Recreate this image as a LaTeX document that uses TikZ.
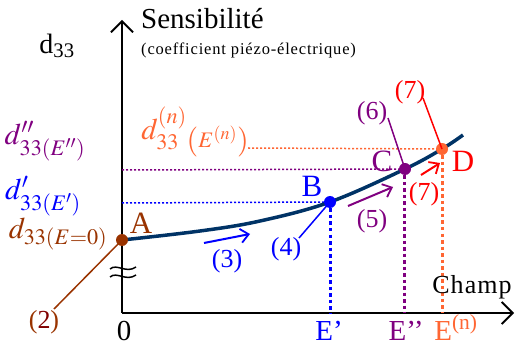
\documentclass[tikz,border=0pt]{standalone}
\usepackage{mathptmx}
\usepackage{fontspec}
\setmainfont{Liberation Serif}
\newfontfamily\spacedA[LetterSpace=5]{Liberation Serif}
\newfontfamily\spacedB[LetterSpace=4]{Liberation Serif}
\usetikzlibrary{arrows.meta}
\definecolor{brownc}{RGB}{153,51,0}
\definecolor{maroonc}{RGB}{128,0,0}
\definecolor{bluec}{RGB}{0,0,255}
\definecolor{purplec}{RGB}{128,0,128}
\definecolor{orangec}{RGB}{255,102,51}
\definecolor{redc}{RGB}{255,0,0}
\definecolor{navyc}{RGB}{0,51,102}
\tikzset{
  axisline/.style={line width=1.8pt, -{Straight Barb[length=11pt,width=22pt,line width=1.8pt]}},
  mainc/.style={line width=3.5pt, navyc},
  dotpt/.style={circle, inner sep=0pt, minimum size=12pt, fill=#1},
  lbl/.style={font=\fontsize{31}{31}\selectfont, inner sep=0pt},
  blbl/.style={font=\fontsize{29}{29}\selectfont, inner sep=0pt, anchor=base, text depth=0pt},
  mlbl/.style={font=\fontsize{30}{30}\selectfont, inner sep=0pt},
  nlbl/.style={font=\fontsize{26}{26}\selectfont, inner sep=0pt},
  hdot/.style={line width=1.5pt, dash pattern=on 2pt off 2pt},
  vdot/.style={line width=3pt, dash pattern=on 3.5pt off 3pt},
  lead/.style={line width=1.5pt},
  step arrow/.style={line width=2pt, -{Straight Barb[length=8pt,width=14pt,line width=1.8pt]}},
}
\begin{document}
\begin{tikzpicture}[x=1pt,y=-1pt]
\useasboundingbox (0,0) rectangle (516,347);
% axes
\coordinate (O) at (122,313);
\coordinate (Ytop) at (122,20);
\coordinate (Xend) at (514,313);
\draw[axisline] (O) -- (Ytop);
\draw[axisline] (O) -- (Xend);
% break marks
\draw[line width=1.5pt] (110,269) .. controls (117,263) and (126,274) .. (136,267);
\draw[line width=1.5pt] (110,277) .. controls (117,271) and (126,282) .. (136,275);
% points
\coordinate (Ap) at (122,240);
\coordinate (Bp) at (330,202);
\coordinate (Cp) at (405,169);
\coordinate (Dp) at (442,149);
% dotted guides
\draw[hdot, purplec] (122,170) -- (Cp);
\draw[hdot, bluec] (122,203) -- (Bp);
\draw[hdot, orangec] (248,148) -- (Dp);
\draw[vdot, bluec] (Bp) -- (330,313);
\draw[vdot, purplec] (404,169) -- (404,313);
\draw[vdot, orangec] (442,149) -- (442,313);
% curve
\draw[mainc] plot[smooth, tension=0.6] coordinates {(122,240) (200,231) (260,221) (330,202) (405,169) (442,149) (463,135)};
\node[dotpt=brownc] (A) at (Ap) {};
\node[dotpt=bluec] (B) at (Bp) {};
\node[dotpt=purplec] (C) at (Cp) {};
\node[dotpt=orangec] (D) at (Dp) {};
% point labels
\node[lbl, brownc] (Al) at (141,223) {A};
\node[lbl, bluec] (Bl) at (312,186) {B};
\node[lbl, purplec] (Cl) at (382,161) {C};
\node[lbl, redc] (Dl) at (463,161) {D};
% axis titles
\node[font=\fontsize{28}{28}\selectfont, inner sep=0pt] (d33) at (57,46) {d\textsubscript{33}};
\node[font=\fontsize{29}{29}\selectfont, inner sep=0pt, anchor=west] (sens) at (141,19) {Sensibilité};
\node[font=\fontsize{16.5}{16.5}\selectfont\spacedA, inner sep=0pt, anchor=west] (coef) at (141,50) {(coefficient piézo-électrique)};
\node[font=\fontsize{26}{26}\selectfont\spacedB, inner sep=0pt] (champ) at (472,287) {Champ};
% axis tick labels
\node[blbl] (zero) at (124,340) {0};
\node[blbl, bluec] (E1) at (329,340) {E’};
\node[blbl, purplec] (E2) at (406,340) {E’’};
\node[blbl, orangec] (En) at (456,340) {E\textsuperscript{(n)}};
% d labels
\node[mlbl, purplec] (d2) at (45,141) {$d''_{33(E'')}$};
\node[mlbl, bluec] (d1) at (43,196) {$d'_{33(E')}$};
\node[mlbl, brownc] (d0) at (58,234) {$d_{33(E=0)}$};
\node[mlbl, orangec] (dn) at (195,132) {$d_{33}^{(n)}\raisebox{-0.55ex}{$\scriptstyle\left(E^{(n)}\right)$}$};
% step labels and leaders
\node[nlbl] (n2) at (44,322) {\textcolor{brownc}{(}\textcolor{maroonc}{2}\textcolor{brownc}{)}};
\coordinate (n2e) at (54,309);
\draw[lead, brownc] (n2e) -- (A.center);
\node[nlbl, bluec] (n3) at (227,261) {(3)};
\coordinate (a3s) at (204,243);
\coordinate (a3e) at (250,234);
\draw[step arrow, bluec] (a3s) -- (a3e);
\node[nlbl, bluec] (n4) at (286,249) {(4)};
\coordinate (n4e) at (299,238);
\draw[lead, bluec] (n4e) -- (B.center);
\node[nlbl, purplec] (n5) at (372,221) {(5)};
\coordinate (a5s) at (348,206);
\coordinate (a5e) at (393,187);
\draw[step arrow, purplec] (a5s) -- (a5e);
\node[nlbl, purplec] (n6) at (372,113) {(6)};
\coordinate (n6e) at (388,118);
\draw[lead, purplec] (n6e) -- (C.center);
\node[nlbl, redc] (n7) at (410,92) {(7)};
\coordinate (n7e) at (423,98);
\draw[lead, redc] (n7e) -- (D.center);
\node[nlbl, redc] (n7b) at (424,194) {(7)};
\coordinate (a7s) at (421,175);
\coordinate (a7e) at (440,163);
\draw[step arrow, redc] (a7s) -- (a7e);
\end{tikzpicture}
\end{document}
